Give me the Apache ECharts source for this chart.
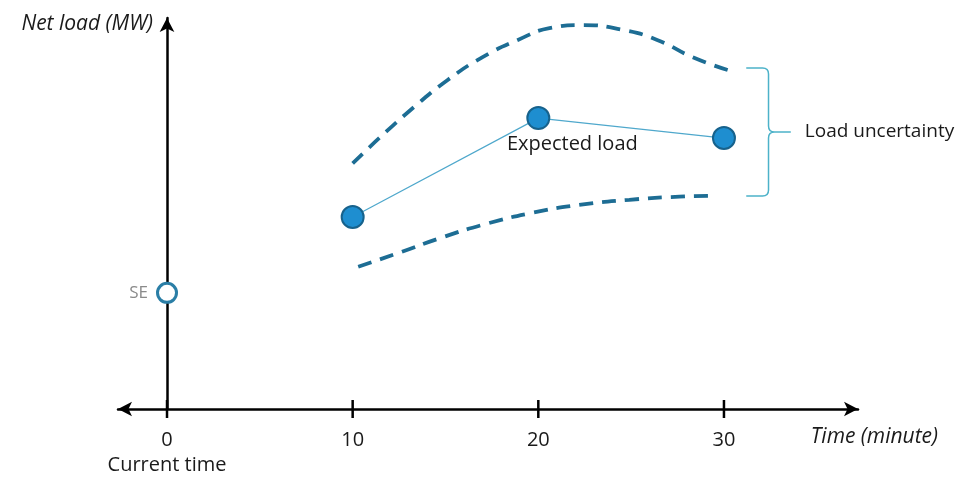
<!DOCTYPE html>
<html>
<head>
<meta charset="utf-8">
<script src="https://cdn.jsdelivr.net/npm/echarts@6/dist/echarts.min.js"></script>
<style>
    html, body { margin: 0; padding: 0; background: #fff; }
    #chart { width: 961px; height: 477px; }
</style>
</head>
<body>
<div id="chart"></div>
<script>
// valeurs (x en minutes, y en unités arbitraires 0-100)
const tickValues = [0, 10, 20, 30];
const expectedX = [10, 20, 30];
const expectedY = [49.1, 74.4, 69.3];
const seX = 0;
const seY = 29.7;
const upperX = [10.0, 11.5, 13.3, 15.1, 17.0, 18.9, 20.6, 22.4, 24.6, 26.4, 28.3, 30.2];
const upperY = [62.8, 69.6, 77.2, 84.1, 90.0, 94.4, 97.4, 98.2, 96.9, 94.4, 90.0, 86.7];
const lowerX = [10.3, 12.4, 14.7, 17.0, 19.6, 22.2, 24.9, 27.6, 29.6];
const lowerY = [36.4, 39.8, 43.7, 47.1, 50.1, 52.2, 53.5, 54.3, 54.5];
// accolade "Load uncertainty" : [x début, x accolade, x pointe, haut, bas]
const brace = [31.2, 32.4, 33.6, 87.2, 54.5];

const txtFont = 'Open Sans';
const zip = (xs, ys) => xs.map((x, i) => [x, ys[i]]);

window.onload = init;

function init() {
    const chart = echarts.init(document.getElementById('chart'));

    const dashStyle = { color: '#1d6d94', width: 3.8, type: [14, 9] };

    const options = {
        animation: false,
        grid: { left: 118, right: 103, top: 18, bottom: 68, outerBoundsMode: 'none' },
        xAxis: {
            type: 'value',
            min: -2.64,
            max: 37.22,
            name: 'Time (minute)',
            nameLocation: 'end',
            nameGap: 80,
            nameTextStyle: {
                fontFamily: txtFont, fontStyle: 'italic', fontSize: 21, color: '#1a1a1a',
                align: 'right', verticalAlign: 'top', padding: [18, 0, 0, 0]
            },
            axisLine: {
                lineStyle: { color: '#000', width: 2.5 },
                symbol: ['arrow', 'arrow'],
                symbolSize: [11, 14]
            },
            axisTick: { show: false },
            splitLine: { show: false },
            axisLabel: {
                customValues: tickValues,
                margin: 19,
                fontFamily: txtFont,
                fontSize: 20,
                color: '#1a1a1a',
                lineHeight: 25,
                formatter: v => v === 0 ? '0\nCurrent time' : String(v)
            }
        },
        yAxis: {
            type: 'value',
            min: 0,
            max: 100,
            name: 'Net load (MW)',
            nameLocation: 'end',
            nameGap: -6,
            nameTextStyle: {
                fontFamily: txtFont, fontStyle: 'italic', fontSize: 21, color: '#1a1a1a',
                align: 'right', verticalAlign: 'middle', padding: [0, 14, 0, 0]
            },
            axisLine: {
                onZero: true,
                lineStyle: { color: '#000', width: 2.5 },
                symbol: ['none', 'arrow'],
                symbolSize: [11, 14]
            },
            axisTick: { show: false },
            axisLabel: { show: false },
            splitLine: { show: false }
        },
        series: [
            {
                name: 'Ticks',
                type: 'scatter',
                symbol: 'rect',
                symbolSize: [2.5, 18],
                itemStyle: { color: '#000', opacity: 1 },
                data: tickValues.map(v => [v, 0]),
                silent: true,
                z: 1
            },
            {
                name: 'Upper',
                type: 'line',
                smooth: true,
                showSymbol: false,
                lineStyle: dashStyle,
                data: zip(upperX, upperY)
            },
            {
                name: 'Lower',
                type: 'line',
                smooth: true,
                showSymbol: false,
                lineStyle: dashStyle,
                data: zip(lowerX, lowerY)
            },
            {
                name: 'Expected load',
                type: 'line',
                symbol: 'circle',
                symbolSize: 22,
                lineStyle: { color: '#4fa8cc', width: 1.2 },
                itemStyle: { color: '#1e8ed0', borderColor: '#17628c', borderWidth: 2 },
                data: zip(expectedX, expectedY),
                label: {
                    show: true,
                    position: 'bottom',
                    distance: 4,
                    offset: [34, 0],
                    fontFamily: txtFont,
                    fontSize: 20,
                    color: '#1a1a1a',
                    formatter: p => p.dataIndex === 1 ? 'Expected load' : ''
                },
                z: 3
            },
            {
                name: 'SE',
                type: 'scatter',
                symbol: 'circle',
                symbolSize: 19,
                itemStyle: { color: '#fff', borderColor: '#2a7ea6', borderWidth: 3, opacity: 1 },
                data: [[seX, seY]],
                label: {
                    show: true,
                    position: 'left',
                    distance: 8,
                    fontFamily: txtFont,
                    fontSize: 17,
                    color: '#8a8a8a',
                    formatter: 'SE'
                },
                z: 4
            },
            {
                name: 'Brace',
                type: 'custom',
                silent: true,
                data: [brace],
                renderItem: (params, api) => {
                    const top = api.coord([api.value(0), api.value(3)]);
                    const bot = api.coord([api.value(0), api.value(4)]);
                    const xb = api.coord([api.value(1), 0])[0];
                    const xt = api.coord([api.value(2), 0])[0];
                    const x0 = top[0];
                    const yt = top[1], yb = bot[1], ym = (yt + yb) / 2;
                    const r = 6;
                    const d = 'M' + x0 + ',' + yt + ' L' + (xb - r) + ',' + yt +
                        ' Q' + xb + ',' + yt + ' ' + xb + ',' + (yt + r) +
                        ' L' + xb + ',' + (ym - r) +
                        ' Q' + xb + ',' + ym + ' ' + (xb + r) + ',' + ym +
                        ' L' + xt + ',' + ym +
                        ' M' + (xb + r) + ',' + ym +
                        ' Q' + xb + ',' + ym + ' ' + xb + ',' + (ym + r) +
                        ' L' + xb + ',' + (yb - r) +
                        ' Q' + xb + ',' + yb + ' ' + (xb - r) + ',' + yb +
                        ' L' + x0 + ',' + yb;
                    return {
                        type: 'group',
                        children: [
                            {
                                type: 'path',
                                shape: { pathData: d },
                                style: { fill: null, stroke: '#4cb2c9', lineWidth: 1.5 }
                            },
                            {
                                type: 'text',
                                x: xt + 14,
                                y: ym,
                                style: {
                                    text: 'Load uncertainty',
                                    fontFamily: txtFont,
                                    fontSize: 19,
                                    fill: '#1a1a1a',
                                    align: 'left',
                                    verticalAlign: 'middle'
                                }
                            }
                        ]
                    };
                }
            }
        ]
    };

    chart.setOption(options);
}
</script>
</body>
</html>
